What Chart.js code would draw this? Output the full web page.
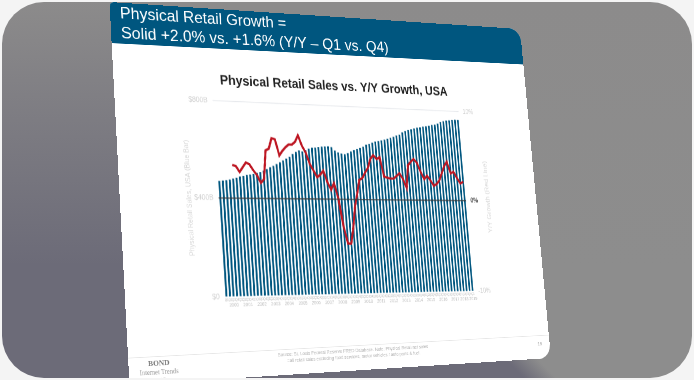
<!DOCTYPE html>
<html>
<head>
<meta charset="utf-8">
<script src="https://cdn.jsdelivr.net/npm/chart.js@4"></script>
<style>
html, body { margin: 0; padding: 0; width: 694px; height: 380px; overflow: hidden; background: #f4f4f4; font-family: "Liberation Sans", sans-serif; }
#frame { position: absolute; left: 2px; top: 2px; width: 690px; height: 376px; border-radius: 42px; overflow: hidden; background: linear-gradient(180deg, #8c8b8b 0%, rgba(140, 139, 139, 0.55) 30%, rgba(140, 139, 139, 0) 70%), linear-gradient(45deg, #6c6b78 0%, #6c6b78 49%, #8d8d8d 52%, #8d8d8d 100%); }
#slide { position: absolute; left: -2px; top: -2px; width: 720px; height: 540px; background: #fff; border-radius: 6px 22px 22px 6px; overflow: hidden; transform-origin: 0 0; }
#head { position: absolute; left: 0; top: 0; width: 720px; height: 60px; background: #00567f; color: #fff; font-size: 24.5px; line-height: 29px; box-sizing: border-box; padding: 0 0 0 15px; white-space: nowrap; }
#chart { position: absolute; left: 0; top: 1px; transform-origin: 300px 280px; transform: skewY(0.6deg); }
#rightTitle { position: absolute; left: 624px; top: 280px; color: #d8d8d8; font-size: 11.5px; white-space: nowrap; transform: translate(-50%, -50%) rotate(-90deg); }
#footLine { position: absolute; left: 0; top: 503px; width: 720px; height: 1px; background: #e6e6e6; }
#source { position: absolute; left: 160px; top: 506px; width: 400px; text-align: center; color: #b4b4b4; font-size: 7px; line-height: 9px; }
#page { position: absolute; left: 696px; top: 512px; color: #999; font-size: 8px; }
#bond { position: absolute; left: 5px; top: 505px; width: 80px; text-align: center; font-family: "Liberation Serif", serif; color: #999; font-size: 9.5px; line-height: 12px; }
#bond b { color: #777; font-size: 11px; display: block; line-height: 14px; }
</style>
</head>
<body>
<div id="frame">
  <div id="slide">
    <div id="head">Physical Retail Growth =<br>Solid +2.0% vs. +1.6% (Y/Y – Q1 vs. Q4)</div>
    <canvas id="chart" width="720" height="540"></canvas>
    <div id="rightTitle">Y/Y Growth (Red Line)</div>
    <div id="footLine"></div>
    <div id="source">Source: St. Louis Federal Reserve FRED Database. Note: Physical Retail net sales<br>=all retail sales excluding food services, motor vehicles / auto parts &amp; fuel.</div>
    <div id="page">19</div>
    <div id="bond"><b>BOND</b>Internet Trends<br>2019</div>
  </div>
</div>
<script>
const title = 'Physical Retail Sales vs. Y/Y Growth, USA';
const barLabel = 'Physical Retail Sales, USA (Blue Bar)';
const years = ['2000','2001','2002','2003','2004','2005','2006','2007','2008','2009','2010','2011','2012','2013','2014','2015','2016','2017','2018','2019'];
const yearSlots = [2,6,10,14,18,22,26,30,34,38,42,46,50,54,58,62,66,70,73,76];
const quarterNames = ['Q1','Q2','Q3','Q4'];

const sales = [
    469,471,473,476, 480,484,489,492, 496,498,501,505, 509,515,522,530,
    536,544,552,560, 568,576,588,598, 604,600,606,613, 617,618,621,623,
    624,625,622,608, 600,596,594,598, 606,612,618,622, 628,637,641,647,
    652,655,658,662, 666,671,676,682, 686,697,703,708, 712,716,720,722,
    726,728,731,735, 737,742,750,754, 757,759,761,763, 762,
];
const growth = [
    null,null,null,null, 3.4,3.3,2.7,3.2, 3.7,3.5,2.9,2.4, 1.6,2.0,5.0,5.2,
    6.3,6.2,4.5,5.0, 5.4,5.7,5.7,6.0, 6.7,5.6,4.9,3.7, 3.0,2.3,2.6,3.0,
    1.8,1.0,1.7,0.1, -2.9,-4.7,-4.7,-3.0, -0.8,0.6,2.1,2.3, 2.9,3.4,4.4,4.8,
    4.4,4.6,2.5,2.4, 2.3,2.3,2.6,2.9, 2.3,1.3,3.8,4.2, 4.5,4.1,3.1,2.3,
    2.7,2.2,1.6,1.8, 2.2,3.0,3.8,4.3, 3.0,3.2,2.5,1.9, 2.1,
];

const categories = sales.map(function (v, i) { return quarterNames[i % 4]; });
const yearTicks = sales.map(function (v, i) {
    const at = yearSlots.indexOf(i);
    return at < 0 ? '' : years[at];
});

// slide corners on the page, the slide is drawn flat and then warped onto them
const corners = [[109.5, 2], [520, 29], [551, 358], [129.5, 385]];
function warp(el, w, h, q) {
    const dx1 = q[1][0] - q[2][0], dx2 = q[3][0] - q[2][0], sx = q[0][0] - q[1][0] + q[2][0] - q[3][0];
    const dy1 = q[1][1] - q[2][1], dy2 = q[3][1] - q[2][1], sy = q[0][1] - q[1][1] + q[2][1] - q[3][1];
    const den = dx1 * dy2 - dx2 * dy1;
    const g = (sx * dy2 - dx2 * sy) / den;
    const k = (dx1 * sy - sx * dy1) / den;
    const a = q[1][0] - q[0][0] + g * q[1][0], b = q[3][0] - q[0][0] + k * q[3][0];
    const d = q[1][1] - q[0][1] + g * q[1][1], e = q[3][1] - q[0][1] + k * q[3][1];
    el.style.transform = 'matrix3d(' + [a / w, d / w, 0, g / w, b / h, e / h, 0, k / h, 0, 0, 1, 0, q[0][0], q[0][1], 0, 1].join(',') + ')';
}
warp(document.getElementById('slide'), 720, 540, corners);

function tickValue(c) { return c.tick ? c.tick.value : null; }

var ctx = document.getElementById('chart');
var chart = new Chart(ctx, {
    type: 'bar',
    data: {
        labels: categories,
        datasets: [
            { type: 'line', data: growth, yAxisID: 'y2', borderColor: '#bd1622', borderWidth: 3.5, pointRadius: 0, tension: 0, order: 1 },
            { type: 'bar', data: sales, yAxisID: 'y', backgroundColor: '#00567f', barPercentage: 0.54, categoryPercentage: 1, order: 2 },
        ],
    },
    options: {
        responsive: false,
        animation: false,
        layout: { padding: { top: 96, left: 98, right: 87, bottom: 93 } },
        plugins: {
            legend: { display: false },
            tooltip: { enabled: false },
            title: { display: true, text: title, color: '#222', font: { family: 'Liberation Sans', size: 20, weight: 'bold' }, padding: { top: 0, bottom: 19 } },
        },
        scales: {
            x: {
                grid: { display: false, drawTicks: false },
                border: { display: false },
                ticks: { autoSkip: false, maxRotation: 0, minRotation: 0, padding: 2, color: '#bbb', font: { family: 'Liberation Sans', size: 4.5 } },
                afterFit: function (s) { s.height = 8; },
            },
            xYear: {
                axis: 'x',
                type: 'category',
                position: 'bottom',
                labels: yearTicks,
                offset: true,
                grid: { display: false, drawTicks: false },
                border: { display: false },
                ticks: { autoSkip: false, maxRotation: 0, minRotation: 0, padding: 0, color: '#bbb', font: { family: 'Liberation Sans', size: 6.8 } },
                afterFit: function (s) { s.height = 14; },
            },
            y: {
                min: 0,
                max: 800,
                position: 'left',
                border: { display: false },
                title: { display: true, text: barLabel, color: '#d8d8d8', font: { family: 'Liberation Sans', size: 10 }, padding: 2 },
                grid: {
                    z: 1,
                    drawTicks: false,
                    lineWidth: function (c) { return tickValue(c) === 400 ? 2.2 : 1.2; },
                    color: function (c) {
                        if (tickValue(c) === 400) return 'rgba(60, 60, 60, 0.72)';
                        return tickValue(c) === 800 ? '#e4e6ea' : 'rgba(0, 0, 0, 0)';
                    },
                },
                ticks: {
                    stepSize: 400,
                    padding: 8,
                    color: '#d0d0d0',
                    font: { family: 'Liberation Sans', size: 10.5 },
                    callback: function (v) { return v === 0 ? '$0' : '$' + v + 'B'; },
                },
                afterFit: function (s) { s.width = 54; },
            },
            y2: {
                min: -10,
                max: 10,
                position: 'right',
                border: { display: false },
                grid: { display: false, drawTicks: false },
                ticks: {
                    stepSize: 10,
                    padding: 8,
                    color: function (c) { return tickValue(c) === 0 ? '#555' : '#cfcfcf'; },
                    font: function (c) {
                        return { family: 'Liberation Sans', size: 10, weight: tickValue(c) === 0 ? 'bold' : 'normal' };
                    },
                    callback: function (v) { return v + '%'; },
                },
                afterFit: function (s) { s.width = 50; },
            },
        },
    },
});
</script>
</body>
</html>
